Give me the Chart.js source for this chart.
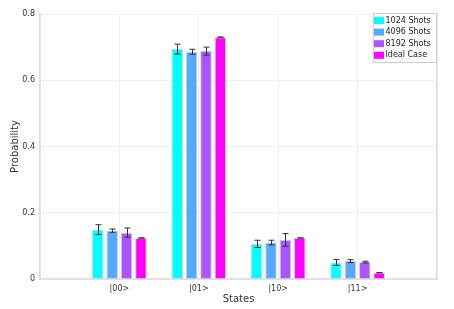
<!DOCTYPE html>
<html><head><meta charset="utf-8">
<script src="https://cdn.jsdelivr.net/npm/chart.js@4/dist/chart.umd.min.js"></script>
<style>html,body{margin:0;padding:0;background:#fff}#w{width:454px;height:309px}</style>
</head><body><div id="w"><canvas id="c"></canvas></div>
<script>
const categories = ['', '|00>', '|01>', '|10>', '|11>', ''];
const seriesNames = ['1024 Shots', '4096 Shots', '8192 Shots', 'Ideal Case'];
const shots1024 = [null, 0.149, 0.694, 0.106, 0.050, null];
const shots4096 = [null, 0.146, 0.686, 0.110, 0.054, null];
const shots8192 = [null, 0.140, 0.688, 0.118, 0.051, null];
const ideal     = [null, 0.124, 0.730, 0.124, 0.019, null];
const err1024 = [0, 0.015, 0.015, 0.011, 0.009, 0];
const err4096 = [0, 0.005, 0.0075, 0.007, 0.0045, 0];
const err8192 = [0, 0.014, 0.012, 0.019, 0.0025, 0];
const errIdeal = [0, 0, 0, 0, 0, 0];
const yTicks = [0, 0.2, 0.4, 0.6, 0.8];

const colors = ['#00FFFF', '#55AAFF', '#AA55FF', '#FF00FF'];
const values = [shots1024, shots4096, shots8192, ideal];
const errs = [err1024, err4096, err8192, errIdeal];
const FONT = 'DejaVu Sans';

const errorBars = {
  id: 'errorBars',
  afterDatasetsDraw(chart) {
    const ctx = chart.ctx, y = chart.scales.y;
    ctx.save();
    ctx.strokeStyle = '#333';
    ctx.lineWidth = 1;
    chart.data.datasets.forEach((ds, di) => {
      const meta = chart.getDatasetMeta(di);
      meta.data.forEach((el, i) => {
        const v = ds.data[i];
        if (v == null) return;
        const e = errs[di][i];
        const x = Math.round(el.x) + 0.5;
        const y1 = y.getPixelForValue(v + e), y2 = y.getPixelForValue(v - e);
        ctx.beginPath();
        ctx.moveTo(x, y1); ctx.lineTo(x, y2);
        ctx.moveTo(x - 3, y1); ctx.lineTo(x + 3, y1);
        ctx.moveTo(x - 3, y2); ctx.lineTo(x + 3, y2);
        ctx.stroke();
      });
    });
    ctx.restore();
  }
};

const legendBox = {
  id: 'legendBox',
  afterDraw(chart) {
    const ctx = chart.ctx, a = chart.chartArea;
    const bx = a.right - 64, by = a.top - 1, bw = 63, bh = 49;
    ctx.save();
    ctx.fillStyle = '#fff';
    ctx.fillRect(bx, by, bw, bh);
    ctx.strokeStyle = '#ccc';
    ctx.lineWidth = 1;
    ctx.strokeRect(bx + 0.5, by + 0.5, bw, bh);
    ctx.font = '8px "' + FONT + '"';
    ctx.textBaseline = 'middle';
    ctx.textAlign = 'left';
    chart.data.datasets.forEach((ds, i) => {
      const cy = by + 7.5 + i * 11.6;
      ctx.fillStyle = ds.backgroundColor;
      ctx.fillRect(bx + 1, cy - 3.5, 10, 7);
      ctx.fillStyle = '#222';
      ctx.fillText(ds.label, bx + 12.5, cy);
    });
    ctx.restore();
  }
};

new Chart(document.getElementById('c'), {
  type: 'bar',
  data: {
    labels: categories,
    datasets: seriesNames.map((n, i) => ({
      label: n,
      data: values[i],
      backgroundColor: colors[i],
      borderColor: 'rgba(200,200,200,0.9)',
      borderWidth: 1,
      categoryPercentage: 0.725,
      barPercentage: 0.8
    }))
  },
  options: {
    responsive: true,
    maintainAspectRatio: false,
    animation: false,
    devicePixelRatio: 1,
    layout: { padding: { top: 14, right: 17, left: 0, bottom: 0 } },
    plugins: { legend: { display: false }, tooltip: { enabled: false } },
    scales: {
      x: {
        type: 'category',
        offset: false,
        grid: {
          offset: false,
          drawTicks: false,
          color: (c) => (c.index === 5 ? '#d8d8d8' : '#efefef'),
          lineWidth: (c) => (c.index === 5 ? 1.5 : 1)
        },
        border: { color: '#e0e0e0', width: 2 },
        ticks: { padding: 5, color: '#333', font: { family: FONT, size: 8 }, autoSkip: false, maxRotation: 0 },
        title: { display: true, text: 'States', color: '#333', font: { family: FONT, size: 10 }, padding: { top: 0, bottom: 4 } },
        afterFit: (s) => { s.height = 30; }
      },
      y: {
        min: 0, max: 0.8,
        afterBuildTicks: (s) => { s.ticks = yTicks.map(v => ({ value: v })); },
        grid: { drawTicks: false, color: '#efefef' },
        border: { color: '#dcdcdc', width: 1.5 },
        ticks: { padding: 5, color: '#333', font: { family: FONT, size: 8 } },
        title: { display: true, text: 'Probability', color: '#333', font: { family: FONT, size: 10 }, padding: { top: 9, bottom: 0 } },
        afterFit: (s) => { s.width = 40; }
      }
    }
  },
  plugins: [errorBars, legendBox]
});
</script>
</body></html>
